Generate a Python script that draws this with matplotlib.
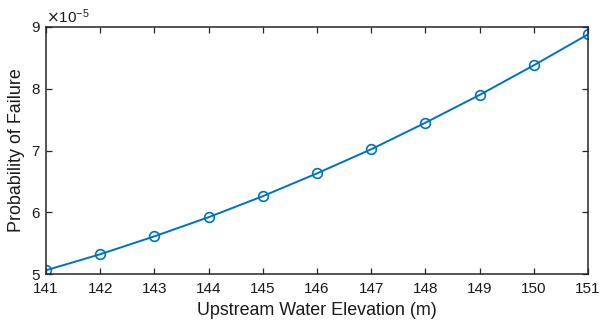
import matplotlib.pyplot as plt
import numpy as np
from matplotlib.ticker import ScalarFormatter

# Upstream water elevation (m) and probability of failure
elevation = [141, 142, 143, 144, 145, 146, 147, 148, 149, 150, 151]
prob_failure = [5.06e-5, 5.32e-5, 5.61e-5, 5.92e-5, 6.26e-5, 6.63e-5,
                7.02e-5, 7.45e-5, 7.90e-5, 8.38e-5, 8.88e-5]

plt.rcParams['font.family'] = ['Liberation Sans', 'DejaVu Sans']
txt = '#1a1a1a'

fig = plt.figure(figsize=(6, 3.24), dpi=100)
ax = fig.add_axes([46 / 600, 1 - 274 / 324, 542 / 600, 247 / 324])

blue = '#0072BD'
ax.plot(elevation, prob_failure, color=blue, linewidth=1.4,
        marker='o', markersize=7, markerfacecolor='none',
        markeredgecolor=blue, markeredgewidth=1.2)

ax.set_xlim(141, 151)
ax.set_ylim(5e-5, 9e-5)
ax.set_xticks(np.arange(141, 152, 1))
ax.set_yticks([5e-5, 6e-5, 7e-5, 8e-5, 9e-5])

fmt = ScalarFormatter(useMathText=True)
fmt.set_powerlimits((-3, 3))
ax.yaxis.set_major_formatter(fmt)

ax.tick_params(direction='in', top=True, right=True, length=4, width=0.9,
               colors='#262626', labelsize=11, labelcolor=txt)
ax.tick_params(axis='x', pad=6)
ax.tick_params(axis='y', pad=4)
for s in ax.spines.values():
    s.set_color('#262626')
    s.set_linewidth(1.1)
ax.yaxis.get_offset_text().set_fontsize(11)
ax.yaxis.get_offset_text().set_color(txt)

ax.set_xlabel('Upstream Water Elevation (m)', fontsize=12.9, color=txt, labelpad=4)
ax.set_ylabel('Probability of Failure', fontsize=12.9, color=txt, labelpad=4)

fig.savefig('out.png', dpi=100)
